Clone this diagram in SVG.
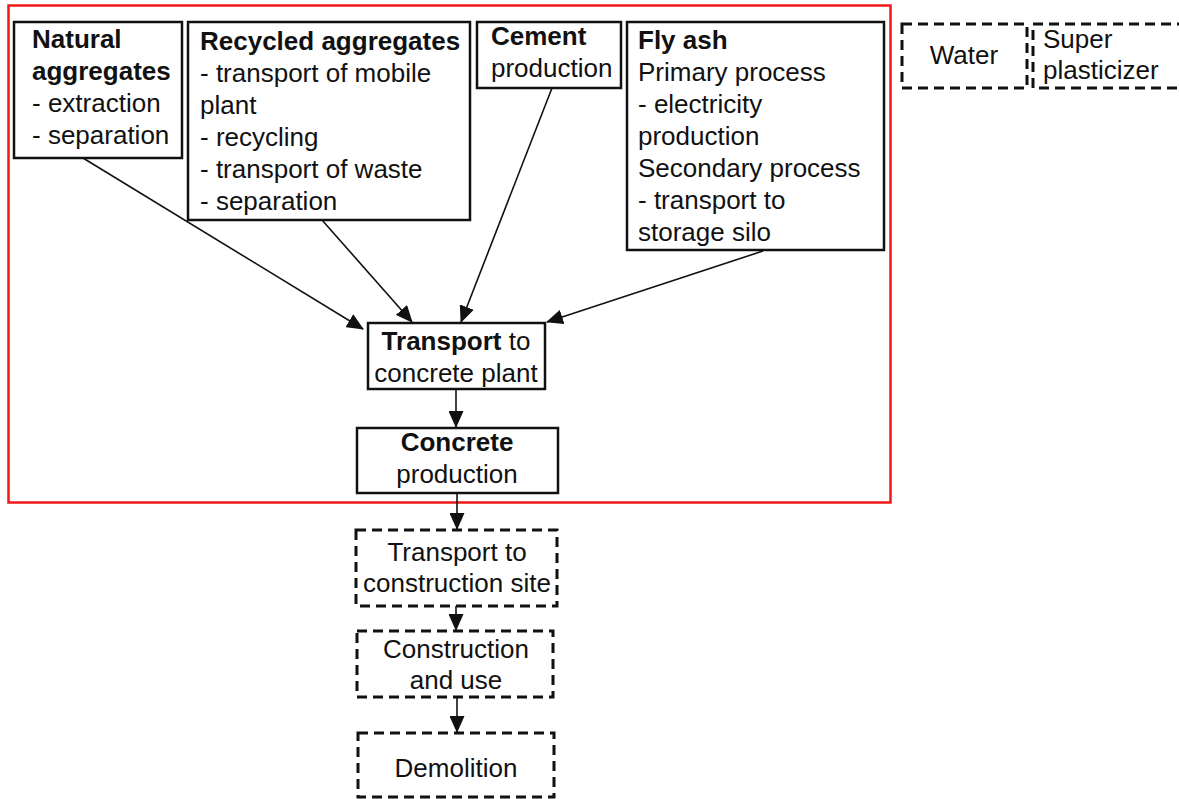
<svg xmlns="http://www.w3.org/2000/svg" width="1179" height="799" viewBox="0 0 1179 799">
<style>
text{font-family:"Liberation Sans",Arial,sans-serif;font-size:26px;fill:#111}
.b{font-weight:bold}
.box{fill:#fff;stroke:#111;stroke-width:2.5}
.dash{fill:#fff;stroke:#111;stroke-width:3;stroke-dasharray:10 6}
.c{text-anchor:middle}
.ln{stroke:#111;stroke-width:1.6;fill:none}
</style>
<defs>
<marker id="ah" markerWidth="17" markerHeight="15" refX="16" refY="7.5" orient="auto" markerUnits="userSpaceOnUse">
<path d="M0,0 L17,7.5 L0,15 Z" fill="#111"/>
</marker>
</defs>
<rect x="0" y="0" width="1179" height="799" fill="#fff"/>
<rect id="boundary" x="8.5" y="5.5" width="882" height="497" fill="none" stroke="#f01818" stroke-width="2.5"/>

<g id="natural">
<rect class="box" x="14" y="22" width="168" height="136"/>
<text x="32" y="48" class="b">Natural</text>
<text x="32" y="80" class="b">aggregates</text>
<text x="32" y="112">- extraction</text>
<text x="32" y="144">- separation</text>
</g>
<g id="recycled">
<rect class="box" x="188" y="22" width="282" height="198"/>
<text x="200" y="50" class="b">Recycled aggregates</text>
<text x="200" y="82">- transport of mobile</text>
<text x="200" y="114">plant</text>
<text x="200" y="146">- recycling</text>
<text x="200" y="178">- transport of waste</text>
<text x="200" y="210">- separation</text>
</g>
<g id="cement">
<rect class="box" x="477" y="22" width="144" height="66"/>
<text x="491" y="45" class="b">Cement</text>
<text x="491" y="77">production</text>
</g>
<g id="flyash">
<rect class="box" x="627" y="22" width="257" height="228"/>
<text x="638" y="49" class="b">Fly ash</text>
<text x="638" y="81">Primary process</text>
<text x="638" y="113">- electricity</text>
<text x="638" y="145">production</text>
<text x="638" y="177">Secondary process</text>
<text x="638" y="209">- transport to</text>
<text x="638" y="241">storage silo</text>
</g>
<g id="water">
<rect class="dash" x="902" y="24" width="125" height="64"/>
<text x="964" y="64" class="c">Water</text>
</g>
<g id="superplasticizer">
<rect class="dash" x="1033" y="24" width="160" height="64"/>
<text x="1043" y="48">Super</text>
<text x="1043" y="79">plasticizer</text>
</g>
<g id="transport">
<rect class="box" x="368" y="323" width="177" height="66"/>
<text x="456" y="350" class="c"><tspan class="b">Transport</tspan> to</text>
<text x="456" y="382" class="c">concrete plant</text>
</g>
<g id="concrete">
<rect class="box" x="357" y="428" width="201" height="65"/>
<text x="457" y="451" class="c b">Concrete</text>
<text x="457" y="483" class="c">production</text>
</g>
<g id="transportsite">
<rect class="dash" x="356" y="530" width="201" height="76"/>
<text x="457" y="561" class="c">Transport to</text>
<text x="457" y="592" class="c">construction site</text>
</g>
<g id="construction">
<rect class="dash" x="357" y="631" width="196" height="66"/>
<text x="456" y="658" class="c">Construction</text>
<text x="456" y="689" class="c">and use</text>
</g>
<g id="demolition">
<rect class="dash" x="358" y="733" width="196" height="64"/>
<text x="456" y="777" class="c">Demolition</text>
</g>

<g id="connectors">
<line class="ln" x1="83" y1="158" x2="363" y2="329" marker-end="url(#ah)"/>
<line class="ln" x1="322" y1="220" x2="412" y2="322" marker-end="url(#ah)"/>
<line class="ln" x1="552" y1="88" x2="461" y2="322" marker-end="url(#ah)"/>
<line class="ln" x1="763" y1="251" x2="547" y2="322" marker-end="url(#ah)"/>
<line class="ln" x1="456" y1="389" x2="456" y2="427" marker-end="url(#ah)"/>
<line class="ln" x1="457" y1="493" x2="457" y2="529" marker-end="url(#ah)"/>
<line class="ln" x1="456" y1="606" x2="456" y2="630" marker-end="url(#ah)"/>
<line class="ln" x1="457" y1="697" x2="457" y2="732" marker-end="url(#ah)"/>
</g>
</svg>
